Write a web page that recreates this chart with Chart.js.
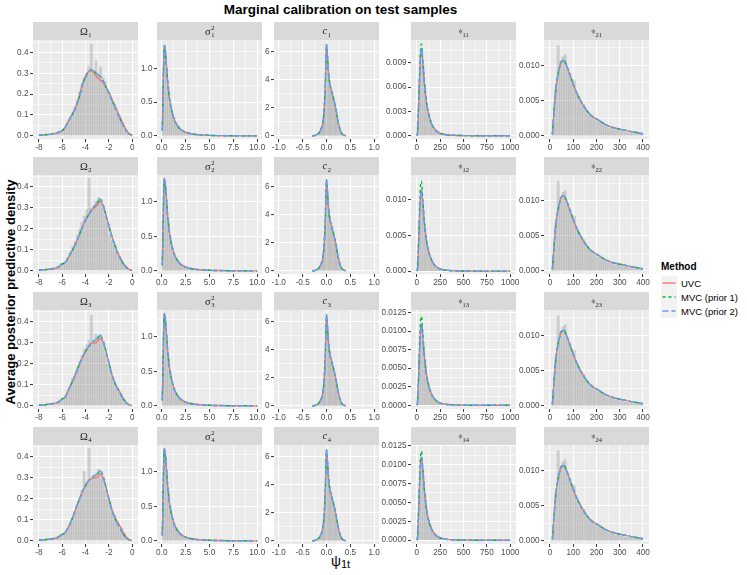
<!DOCTYPE html>
<html lang="en">
<head>
<meta charset="UTF-8">
<title>Marginal calibration on test samples</title>
<script src="https://cdn.jsdelivr.net/npm/chart.js"></script>
<style>
  body { margin: 0; background: #fff; font-family: "Liberation Sans", Arial, sans-serif; }
  #wrap { position: relative; width: 747px; height: 575px; overflow: hidden; }
  #wrap canvas { position: absolute; }
  .title { position: absolute; left: 0; width: 681px; top: 2px; text-align: center; font-weight: bold; font-size: 13.5px; line-height: 16px; }
  .ylab { position: absolute; left: 10px; top: 292px; transform: translate(-50%, -50%) rotate(-90deg); white-space: nowrap; font-weight: bold; font-size: 13px; }
  .xlab { position: absolute; left: 0; width: 681px; top: 553px; text-align: center; font-size: 14px; }
  .xlab sub { font-size: 11px; vertical-align: -2px; }
  #legend { position: absolute; left: 661px; top: 261px; font-size: 9.5px; }
  #legend .lt { font-weight: bold; font-size: 10px; margin-bottom: 4px; }
  #legend .row { display: flex; align-items: center; height: 14px; }
  #legend svg { display: block; margin-right: 4px; }
</style>
</head>
<body>
<div id="wrap">
  <div class="title">Marginal calibration on test samples</div>
  <div class="ylab">Average posterior predictive density</div>
  <div class="xlab">ψ<sub>1t</sub></div>
  <div id="legend"></div>
</div>
<script>
// ---- data ----
const methods = ['UVC', 'MVC (prior 1)', 'MVC (prior 2)'];

// Omega panels
const omegaX = [-8,-7.75,-7.5,-7.25,-7,-6.75,-6.5,-6.25,-6,-5.75,-5.5,-5.25,-5,-4.75,-4.5,-4.25,-4,-3.75,-3.5,-3.25,-3,-2.75,-2.5,-2.25,-2,-1.75,-1.5,-1.25,-1,-0.75,-0.5,-0.25,0];
const omega1UVC = [0.002,0.003,0.004,0.005,0.007,0.009,0.012,0.017,0.024,0.04,0.066,0.092,0.118,0.152,0.198,0.25,0.287,0.308,0.313,0.3,0.28,0.268,0.255,0.232,0.208,0.178,0.148,0.115,0.085,0.055,0.028,0.01,0.003];
const omega1MVC = [0.002,0.003,0.004,0.005,0.007,0.009,0.012,0.018,0.024,0.04,0.065,0.09,0.115,0.148,0.19,0.245,0.28,0.305,0.316,0.31,0.295,0.285,0.265,0.235,0.205,0.17,0.14,0.105,0.075,0.045,0.022,0.008,0.002];
const omega2UVC = [0.002,0.003,0.004,0.006,0.008,0.01,0.013,0.02,0.032,0.038,0.06,0.085,0.11,0.14,0.175,0.21,0.24,0.265,0.285,0.3,0.31,0.33,0.31,0.265,0.215,0.165,0.125,0.085,0.06,0.035,0.018,0.005,0.001];
const omega2MVC = [0.002,0.003,0.004,0.006,0.008,0.01,0.013,0.02,0.032,0.038,0.06,0.085,0.11,0.14,0.175,0.21,0.24,0.265,0.288,0.305,0.322,0.342,0.315,0.265,0.215,0.165,0.125,0.085,0.055,0.03,0.015,0.005,0.001];
const omega3UVC = [0.002,0.003,0.004,0.006,0.008,0.01,0.013,0.02,0.032,0.04,0.07,0.1,0.13,0.165,0.2,0.232,0.258,0.28,0.298,0.298,0.305,0.32,0.305,0.26,0.205,0.15,0.11,0.085,0.06,0.035,0.015,0.004,0.001];
const omega3MVC = [0.002,0.003,0.004,0.006,0.008,0.01,0.013,0.02,0.032,0.04,0.07,0.1,0.13,0.165,0.2,0.232,0.258,0.28,0.298,0.31,0.32,0.335,0.31,0.26,0.205,0.15,0.11,0.08,0.055,0.03,0.013,0.004,0.001];
const omega4UVC = [0.002,0.003,0.004,0.006,0.008,0.01,0.013,0.02,0.03,0.038,0.06,0.09,0.125,0.165,0.2,0.235,0.262,0.285,0.295,0.3,0.302,0.317,0.3,0.255,0.2,0.15,0.115,0.088,0.065,0.038,0.018,0.005,0.001];
const omega4MVC = [0.002,0.003,0.004,0.006,0.008,0.01,0.013,0.02,0.03,0.038,0.06,0.09,0.125,0.165,0.2,0.235,0.262,0.285,0.3,0.31,0.318,0.332,0.31,0.255,0.2,0.15,0.11,0.08,0.055,0.03,0.013,0.004,0.001];
const omegaBins = [-7.9,-7.7,-7.5,-7.3,-7.1,-6.9,-6.7,-6.5,-6.3,-6.1,-5.9,-5.7,-5.5,-5.3,-5.1,-4.9,-4.7,-4.5,-4.3,-4.1,-3.9,-3.7,-3.5,-3.3,-3.1,-2.9,-2.7,-2.5,-2.3,-2.1,-1.9,-1.7,-1.5,-1.3,-1.1,-0.9,-0.7,-0.5,-0.3,-0.1];
const omega1Hist = [0,0.003,0.006,0.01,0.008,0.006,0.012,0.01,0.02,0.025,0.03,0.045,0.07,0.09,0.11,0.14,0.17,0.21,0.25,0.28,0.3,0.33,0.44,0.31,0.36,0.3,0.33,0.28,0.26,0.22,0.2,0.16,0.15,0.11,0.1,0.065,0.04,0.015,0.005,0];
const omega2Hist = [0,0.002,0.005,0.008,0.01,0.008,0.012,0.015,0.02,0.035,0.03,0.045,0.065,0.09,0.115,0.14,0.17,0.2,0.23,0.26,0.29,0.44,0.3,0.31,0.33,0.35,0.34,0.3,0.26,0.22,0.17,0.14,0.12,0.09,0.07,0.05,0.03,0.015,0.005,0];
const omega3Hist = [0,0.002,0.004,0.007,0.01,0.012,0.01,0.015,0.02,0.03,0.035,0.05,0.075,0.1,0.13,0.15,0.18,0.21,0.24,0.27,0.29,0.31,0.43,0.3,0.34,0.33,0.34,0.31,0.25,0.2,0.18,0.14,0.11,0.08,0.065,0.05,0.03,0.012,0.004,0];
const omega4Hist = [0,0.002,0.004,0.008,0.01,0.01,0.012,0.015,0.02,0.03,0.03,0.045,0.065,0.085,0.11,0.14,0.17,0.2,0.24,0.33,0.28,0.44,0.3,0.3,0.32,0.34,0.33,0.3,0.24,0.2,0.18,0.14,0.12,0.09,0.07,0.06,0.035,0.015,0.005,0];

// sigma^2 panels
const sigmaX = [0.05,0.1,0.15,0.2,0.25,0.3,0.35,0.4,0.5,0.6,0.7,0.8,1.0,1.2,1.4,1.7,2.0,2.5,3,3.5,4,5,6,7,8,9,10];
const sigmaDens = [0.08,0.35,0.75,1.1,1.3,1.34,1.3,1.22,1.02,0.83,0.68,0.56,0.4,0.29,0.21,0.14,0.095,0.055,0.035,0.024,0.017,0.009,0.005,0.003,0.002,0.001,0.001];
const sigmaBins = [0.1,0.3,0.5,0.7,0.9,1.1,1.3,1.5,1.7,1.9,2.1,2.3,2.5,2.7,2.9,3.1,3.3,3.5,3.7,3.9,4.1,4.3,4.5,4.7,4.9];
const sigmaHist = [0.72,1.3,1.02,0.72,0.5,0.36,0.27,0.2,0.15,0.11,0.09,0.07,0.055,0.045,0.038,0.03,0.026,0.022,0.019,0.016,0.013,0.011,0.01,0.009,0.008];

// c panels
const cX = [-0.3,-0.25,-0.2,-0.15,-0.1,-0.075,-0.05,-0.025,0,0.025,0.05,0.075,0.1,0.125,0.15,0.175,0.2,0.25,0.3,0.35,0.4];
const cDens = [0,0.03,0.1,0.25,0.6,1.0,1.8,3.6,6.5,5.4,4.2,3.6,3.3,2.9,2.6,2.25,1.85,0.9,0.3,0.08,0.01];
const cBins = [-0.3,-0.275,-0.25,-0.225,-0.2,-0.175,-0.15,-0.125,-0.1,-0.075,-0.05,-0.025,0,0.025,0.05,0.075,0.1,0.125,0.15,0.175,0.2,0.225,0.25,0.275,0.3,0.325,0.35,0.375,0.4];
const cHist = [0,0.02,0.03,0.06,0.1,0.15,0.25,0.4,0.6,1.0,1.7,3.4,5.9,5.2,4.3,3.9,3.4,3.1,2.8,2.1,1.7,1.2,0.8,0.5,0.3,0.15,0.07,0.03,0.01];

// phi_1t panels
const phi1X = [5,10,20,30,40,50,60,70,80,100,120,150,200,250,300,400,500,750,1000];
const phi11 = [0,0.0008,0.0038,0.007,0.0099,0.0108,0.0097,0.0081,0.0066,0.0044,0.003,0.0017,0.0007,0.0003,0.00015,0.00005,0.00002,0,0];
const phi11Prior1 = [0,0.0009,0.0041,0.0075,0.0106,0.0113,0.01,0.0083,0.0067,0.0044,0.003,0.0017,0.0007,0.0003,0.00015,0.00005,0.00002,0,0];
const phi12 = [0,0.0008,0.004,0.0074,0.0104,0.0113,0.0102,0.0085,0.0069,0.0046,0.0031,0.0018,0.0007,0.0003,0.00015,0.00005,0.00002,0,0];
const phi12Prior1 = [0,0.001,0.0046,0.0086,0.0119,0.0126,0.0108,0.0088,0.007,0.0046,0.0031,0.0018,0.0007,0.0003,0.00015,0.00005,0.00002,0,0];
const phi13 = [0,0.0008,0.0039,0.0072,0.0101,0.011,0.0099,0.0083,0.0067,0.0045,0.003,0.0017,0.0007,0.0003,0.00015,0.00005,0.00002,0,0];
const phi13Prior1 = [0,0.0009,0.0044,0.0082,0.0113,0.012,0.0104,0.0085,0.0068,0.0045,0.003,0.0017,0.0007,0.0003,0.00015,0.00005,0.00002,0,0];
const phi14 = [0,0.0008,0.0039,0.0072,0.0101,0.011,0.0099,0.0083,0.0067,0.0045,0.003,0.0017,0.0007,0.0003,0.00015,0.00005,0.00002,0,0];
const phi14Prior1 = [0,0.0009,0.0043,0.008,0.0111,0.0118,0.0103,0.0085,0.0068,0.0045,0.003,0.0017,0.0007,0.0003,0.00015,0.00005,0.00002,0,0];
const phi1Bins = [10,30,50,70,90,110,130,150,170,190,210,230,250,270,290,310,330,350,370,390,410,430,450,470,490];
const phi1Hist = [0.0016,0.0068,0.0106,0.0086,0.006,0.0038,0.0027,0.0019,0.0013,0.0009,0.0007,0.0005,0.0004,0.0003,0.00025,0.0002,0.00015,0.0001,0.0001,0.00008,0.00006,0.00005,0.00004,0.00003,0.00002];

// phi_2t panels
const phi2X = [10,15,20,25,30,40,50,60,70,80,100,120,140,160,180,200,250,300,350,400];
const phi2Dens = [0.0002,0.0024,0.0048,0.0066,0.0079,0.0096,0.0106,0.0107,0.0101,0.0092,0.0073,0.0057,0.0045,0.0035,0.0028,0.0024,0.0014,0.00095,0.0006,0.0003];
const phi2Bins = [5,15,25,35,45,55,65,75,85,95,105,115,125,135,145,155,165,175,185,195,205,215,225,235,245,255,265,275,285,295,305,315,325,335,345,355,365,375,385,395];
const phi2Hist = [0,0.002,0.0068,0.0128,0.0105,0.0112,0.0115,0.0095,0.0088,0.008,0.0078,0.0062,0.0055,0.0048,0.0045,0.0038,0.0032,0.003,0.0027,0.0023,0.002,0.0021,0.0017,0.0015,0.0012,0.0011,0.0013,0.0009,0.0008,0.0009,0.0007,0.0006,0.0005,0.0005,0.0004,0.0004,0.0003,0.0003,0.0003,0.0002];

// tick breaks and labels
const omegaXTicks = [-8,-6,-4,-2,0], omegaXLabels = ['-8','-6','-4','-2','0'];
const omegaYTicks = [0,0.1,0.2,0.3,0.4], omegaYLabels = ['0.0','0.1','0.2','0.3','0.4'];
const sigmaXTicks = [0,2.5,5,7.5,10], sigmaXLabels = ['0.0','2.5','5.0','7.5','10.0'];
const sigmaYTicks = [0,0.5,1], sigmaYLabels = ['0.0','0.5','1.0'];
const cXTicks = [-1,-0.5,0,0.5,1], cXLabels = ['-1.0','-0.5','0.0','0.5','1.0'];
const cYTicks = [0,2,4,6], cYLabels = ['0','2','4','6'];
const phi1XTicks = [0,250,500,750,1000], phi1XLabels = ['0','250','500','750','1000'];
const phi1YTicksA = [0,0.003,0.006,0.009], phi1YLabelsA = ['0.000','0.003','0.006','0.009'];
const phi1YTicksB = [0,0.005,0.01], phi1YLabelsB = ['0.000','0.005','0.010'];
const phi1YTicksC = [0,0.0025,0.005,0.0075,0.01,0.0125], phi1YLabelsC = ['0.0000','0.0025','0.0050','0.0075','0.0100','0.0125'];
const phi2XTicks = [0,100,200,300,400], phi2XLabels = ['0','100','200','300','400'];
const phi2YTicks = [0,0.005,0.01], phi2YLabels = ['0.000','0.005','0.010'];

// ---- layout ----
const ROW_TOP = [22, 157, 292, 427];
const PANEL_LEFT = [33, 157, 274, 411, 544];
const PANEL_W = 105, PANEL_H = 99, STRIP_H = 18;
const YAXIS_W = 36, XAXIS_H = 16, RIGHT_PAD = 14;
const COLORS = ['#F8766D', '#00BA38', '#619CFF'];
const DASHES = [[], [3, 3], [6, 3]];
const TICK_FONT = { family: '"Liberation Sans", Arial, sans-serif', size: 8.2 };
const SERIF = '"Liberation Serif", "DejaVu Serif", serif';

function buildTicks(majors, labels, min, max) {
  const step = majors[1] - majors[0];
  const eps = Math.abs(step) * 1e-6;
  const out = [];
  for (let i = -1; i < majors.length; i++) {
    const base = i < 0 ? majors[0] - step : majors[i];
    if (i >= 0 && base >= min - eps && base <= max + eps) out.push({ value: base, lab: labels[i], minor: false });
    const mid = base + step / 2;
    if (mid > min + eps && mid < max - eps) out.push({ value: mid, lab: '', minor: true });
  }
  return out.sort((a, b) => a.value - b.value);
}

function axis(range, majors, labels, isX) {
  return {
    type: 'linear', min: range[0], max: range[1], offset: false,
    afterBuildTicks: ax => { ax.ticks = buildTicks(majors, labels, range[0], range[1]); },
    afterFit: ax => { if (isX) ax.height = XAXIS_H; else ax.width = YAXIS_W; },
    ticks: {
      autoSkip: false, maxRotation: 0, minRotation: 0, padding: isX ? 1 : 1.5,
      color: '#4D4D4D', font: TICK_FONT,
      callback: (v, i, t) => t[i].lab
    },
    grid: {
      offset: false, color: '#FFFFFF',
      lineWidth: c => (c.tick && c.tick.minor) ? 0.55 : 1.1,
      tickLength: 3, tickWidth: 1,
      tickColor: c => (c.tick && c.tick.minor) ? 'rgba(0,0,0,0)' : '#333333'
    },
    border: { display: false }
  };
}

function drawStrip(ctx, s, cx, cy) {
  const baseFont = (s.italic ? 'italic ' : '') + s.size + 'px ' + SERIF;
  const smallFont = s.small + 'px ' + SERIF;
  ctx.font = baseFont;
  const bw = ctx.measureText(s.base).width;
  ctx.font = smallFont;
  const sw = Math.max(ctx.measureText(s.sub || '').width, ctx.measureText(s.sup || '').width);
  const x = cx - (bw + sw) / 2;
  const baseline = cy + 3.5;
  ctx.fillStyle = '#1A1A1A';
  ctx.textAlign = 'left';
  ctx.textBaseline = 'alphabetic';
  ctx.font = baseFont;
  ctx.fillText(s.base, x, baseline + (s.shift || 0));
  ctx.font = smallFont;
  if (s.sub) ctx.fillText(s.sub, x + bw + 0.5, baseline + 2.5);
  if (s.sup) ctx.fillText(s.sup, x + bw + 0.5, baseline - 4.5);
}

const panelBg = {
  id: 'panelBg',
  beforeDraw(chart, args, opts) {
    const { ctx, chartArea: a } = chart;
    ctx.save();
    ctx.fillStyle = '#EBEBEB';
    ctx.fillRect(a.left, a.top, a.right - a.left, a.bottom - a.top);
    ctx.fillStyle = '#D9D9D9';
    ctx.fillRect(a.left, a.top - STRIP_H, a.right - a.left, STRIP_H);
    drawStrip(ctx, opts.strip, (a.left + a.right) / 2, a.top - STRIP_H / 2);
    ctx.restore();
  }
};

function strip(kind, idx) {
  if (kind === 'omega') return { base: 'Ω', sub: idx, size: 10.5, small: 6.5 };
  if (kind === 'sigma') return { base: 'σ', sup: '2', sub: idx, size: 10.5, small: 6.5 };
  if (kind === 'c') return { base: 'c', sub: idx, italic: true, size: 10.5, small: 6.5, shift: -1 };
  return { base: 'ϕ', sub: idx, size: 6.5, small: 6.5, shift: -1.5 };
}

// one entry per facet
const panels = [
  // row 1
  { r: 0, c: 0, s: strip('omega', '1'), lx: omegaX, lines: [omega1UVC, omega1MVC, omega1MVC], hx: omegaBins, hy: omega1Hist, xr: [-8.5, 0.5], yr: [-0.016, 0.46], xt: [omegaXTicks, omegaXLabels], yt: [omegaYTicks, omegaYLabels] },
  { r: 0, c: 1, s: strip('sigma', '1'), lx: sigmaX, lines: [sigmaDens, sigmaDens, sigmaDens], hx: sigmaBins, hy: sigmaHist, xr: [-0.5, 10.5], yr: [-0.045, 1.42], xt: [sigmaXTicks, sigmaXLabels], yt: [sigmaYTicks, sigmaYLabels] },
  { r: 0, c: 2, s: strip('c', '1'), lx: cX, lines: [cDens, cDens, cDens], hx: cBins, hy: cHist, xr: [-1.1, 1.1], yr: [-0.22, 6.82], xt: [cXTicks, cXLabels], yt: [cYTicks, cYLabels] },
  { r: 0, c: 3, s: strip('phi', '11'), lx: phi1X, lines: [phi11, phi11Prior1, phi11], hx: phi1Bins, hy: phi1Hist, xr: [-62, 1062], yr: [-0.0004, 0.0118], xt: [phi1XTicks, phi1XLabels], yt: [phi1YTicksA, phi1YLabelsA] },
  { r: 0, c: 4, s: strip('phi', '21'), lx: phi2X, lines: [phi2Dens, phi2Dens, phi2Dens], hx: phi2Bins, hy: phi2Hist, xr: [-26, 426], yr: [-0.00045, 0.0136], xt: [phi2XTicks, phi2XLabels], yt: [phi2YTicks, phi2YLabels] },
  // row 2
  { r: 1, c: 0, s: strip('omega', '2'), lx: omegaX, lines: [omega2UVC, omega2MVC, omega2MVC], hx: omegaBins, hy: omega2Hist, xr: [-8.5, 0.5], yr: [-0.016, 0.456], xt: [omegaXTicks, omegaXLabels], yt: [omegaYTicks, omegaYLabels] },
  { r: 1, c: 1, s: strip('sigma', '2'), lx: sigmaX, lines: [sigmaDens, sigmaDens, sigmaDens], hx: sigmaBins, hy: sigmaHist, xr: [-0.5, 10.5], yr: [-0.045, 1.39], xt: [sigmaXTicks, sigmaXLabels], yt: [sigmaYTicks, sigmaYLabels] },
  { r: 1, c: 2, s: strip('c', '2'), lx: cX, lines: [cDens, cDens, cDens], hx: cBins, hy: cHist, xr: [-1.1, 1.1], yr: [-0.22, 6.83], xt: [cXTicks, cXLabels], yt: [cYTicks, cYLabels] },
  { r: 1, c: 3, s: strip('phi', '12'), lx: phi1X, lines: [phi12, phi12Prior1, phi12], hx: phi1Bins, hy: phi1Hist, xr: [-62, 1062], yr: [-0.0004, 0.01346], xt: [phi1XTicks, phi1XLabels], yt: [phi1YTicksB, phi1YLabelsB] },
  { r: 1, c: 4, s: strip('phi', '22'), lx: phi2X, lines: [phi2Dens, phi2Dens, phi2Dens], hx: phi2Bins, hy: phi2Hist, xr: [-26, 426], yr: [-0.00045, 0.0137], xt: [phi2XTicks, phi2XLabels], yt: [phi2YTicks, phi2YLabels] },
  // row 3
  { r: 2, c: 0, s: strip('omega', '3'), lx: omegaX, lines: [omega3UVC, omega3MVC, omega3MVC], hx: omegaBins, hy: omega3Hist, xr: [-8.5, 0.5], yr: [-0.016, 0.456], xt: [omegaXTicks, omegaXLabels], yt: [omegaYTicks, omegaYLabels] },
  { r: 2, c: 1, s: strip('sigma', '3'), lx: sigmaX, lines: [sigmaDens, sigmaDens, sigmaDens], hx: sigmaBins, hy: sigmaHist, xr: [-0.5, 10.5], yr: [-0.045, 1.39], xt: [sigmaXTicks, sigmaXLabels], yt: [sigmaYTicks, sigmaYLabels] },
  { r: 2, c: 2, s: strip('c', '3'), lx: cX, lines: [cDens, cDens, cDens], hx: cBins, hy: cHist, xr: [-1.1, 1.1], yr: [-0.22, 6.83], xt: [cXTicks, cXLabels], yt: [cYTicks, cYLabels] },
  { r: 2, c: 3, s: strip('phi', '13'), lx: phi1X, lines: [phi13, phi13Prior1, phi13], hx: phi1Bins, hy: phi1Hist, xr: [-62, 1062], yr: [-0.0005, 0.01285], xt: [phi1XTicks, phi1XLabels], yt: [phi1YTicksC, phi1YLabelsC] },
  { r: 2, c: 4, s: strip('phi', '23'), lx: phi2X, lines: [phi2Dens, phi2Dens, phi2Dens], hx: phi2Bins, hy: phi2Hist, xr: [-26, 426], yr: [-0.00045, 0.0136], xt: [phi2XTicks, phi2XLabels], yt: [phi2YTicks, phi2YLabels] },
  // row 4
  { r: 3, c: 0, s: strip('omega', '4'), lx: omegaX, lines: [omega4UVC, omega4MVC, omega4MVC], hx: omegaBins, hy: omega4Hist, xr: [-8.5, 0.5], yr: [-0.016, 0.456], xt: [omegaXTicks, omegaXLabels], yt: [omegaYTicks, omegaYLabels] },
  { r: 3, c: 1, s: strip('sigma', '4'), lx: sigmaX, lines: [sigmaDens, sigmaDens, sigmaDens], hx: sigmaBins, hy: sigmaHist, xr: [-0.5, 10.5], yr: [-0.045, 1.39], xt: [sigmaXTicks, sigmaXLabels], yt: [sigmaYTicks, sigmaYLabels] },
  { r: 3, c: 2, s: strip('c', '4'), lx: cX, lines: [cDens, cDens, cDens], hx: cBins, hy: cHist, xr: [-1.1, 1.1], yr: [-0.22, 6.84], xt: [cXTicks, cXLabels], yt: [cYTicks, cYLabels] },
  { r: 3, c: 3, s: strip('phi', '14'), lx: phi1X, lines: [phi14, phi14Prior1, phi14], hx: phi1Bins, hy: phi1Hist, xr: [-62, 1062], yr: [-0.0005, 0.0126], xt: [phi1XTicks, phi1XLabels], yt: [phi1YTicksC, phi1YLabelsC] },
  { r: 3, c: 4, s: strip('phi', '24'), lx: phi2X, lines: [phi2Dens, phi2Dens, phi2Dens], hx: phi2Bins, hy: phi2Hist, xr: [-26, 426], yr: [-0.00045, 0.0136], xt: [phi2XTicks, phi2XLabels], yt: [phi2YTicks, phi2YLabels] }
];

const wrap = document.getElementById('wrap');

panels.forEach(p => {
  const canvas = document.createElement('canvas');
  const w = YAXIS_W + PANEL_W + RIGHT_PAD;
  const h = STRIP_H + PANEL_H + XAXIS_H;
  canvas.width = w;
  canvas.height = h;
  canvas.style.left = (PANEL_LEFT[p.c] - YAXIS_W) + 'px';
  canvas.style.top = ROW_TOP[p.r] + 'px';
  canvas.style.width = w + 'px';
  canvas.style.height = h + 'px';
  wrap.appendChild(canvas);

  const datasets = [{
    type: 'bar',
    data: p.hx.map((x, i) => ({ x: x, y: p.hy[i] })),
    backgroundColor: 'rgba(150,150,150,0.36)',
    borderWidth: 0,
    barPercentage: 1,
    categoryPercentage: 1,
    order: 4
  }];
  p.lines.forEach((ys, k) => {
    datasets.push({
      type: 'line',
      label: methods[k],
      data: p.lx.map((x, i) => ({ x: x, y: ys[i] })),
      borderColor: COLORS[k],
      borderWidth: 1.4,
      borderDash: DASHES[k],
      borderJoinStyle: 'round',
      pointRadius: 0,
      fill: false,
      cubicInterpolationMode: 'monotone',
      order: 3 - k
    });
  });

  new Chart(canvas, {
    type: 'line',
    data: { datasets: datasets },
    options: {
      responsive: false,
      animation: false,
      events: [],
      layout: { padding: { top: STRIP_H, right: RIGHT_PAD, left: 0, bottom: 0 } },
      plugins: { legend: { display: false }, tooltip: { enabled: false }, panelBg: { strip: p.s } },
      scales: {
        x: axis(p.xr, p.xt[0], p.xt[1], true),
        y: axis(p.yr, p.yt[0], p.yt[1], false)
      }
    },
    plugins: [panelBg]
  });
});

// legend
const legend = document.getElementById('legend');
let html = '<div class="lt">Method</div>';
methods.forEach((m, k) => {
  const dash = DASHES[k].length ? ' stroke-dasharray="' + DASHES[k].join(',') + '"' : '';
  html += '<div class="row"><svg width="16" height="14"><rect width="16" height="14" fill="#F2F2F2"/>' +
    '<line x1="1.5" y1="7" x2="14.5" y2="7" stroke="' + COLORS[k] + '" stroke-width="1.4"' + dash + '/></svg>' +
    '<span>' + m + '</span></div>';
});
legend.innerHTML = html;
</script>
</body>
</html>
